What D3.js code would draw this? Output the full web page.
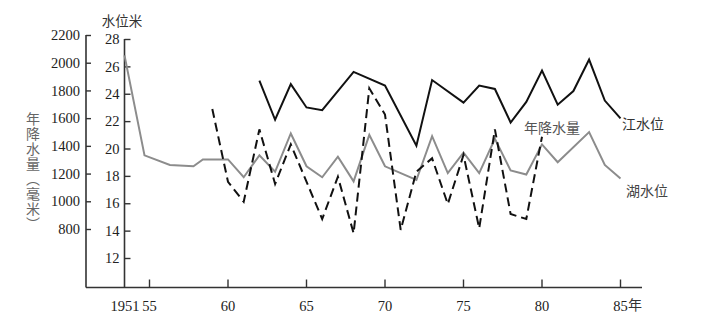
<!DOCTYPE html>
<html>
<head>
<meta charset="utf-8">
<script src="https://cdn.jsdelivr.net/npm/d3@7"></script>
<style>
  html, body { margin: 0; padding: 0; background: #fff; }
</style>
</head>
<body>
<div id="chart"></div>
<script>
// years (x), water levels in metres, rainfall in mm
const lakeYears = [1951, 1954.2, 1956.3, 1957.8, 1958.4, 1960, 1961, 1962, 1963, 1964, 1965, 1966, 1967, 1968, 1969, 1970,
  1972, 1973, 1974, 1975, 1976, 1977, 1978, 1979, 1980, 1981, 1983, 1984, 1985];
const lakeLevel = [26.8, 19.5, 18.8, 18.7, 19.2, 19.2, 17.9, 19.5, 18.3, 21.1, 18.7, 17.9, 19.4, 17.6, 21.0, 18.7,
  17.7, 20.9, 18.2, 19.7, 18.2, 20.7, 18.4, 18.1, 20.3, 19.0, 21.2, 18.8, 17.8];

const riverYears = [1962, 1963, 1964, 1965, 1966, 1968, 1970, 1972, 1973, 1975, 1976, 1977, 1978, 1979, 1980,
  1981, 1982, 1983, 1984, 1985];
const riverLevel = [24.95, 22.1, 24.7, 23.0, 22.8, 25.6, 24.6, 20.2, 25.0, 23.35, 24.6, 24.35, 21.9, 23.4, 25.7,
  23.2, 24.2, 26.5, 23.5, 22.2];

const rainYears = [1959, 1960, 1961, 1962, 1963, 1964, 1966, 1967, 1968, 1969, 1970, 1971, 1972, 1973, 1974,
  1975, 1976, 1977, 1978, 1979, 1980];
const rain = [1666, 1141, 997, 1519, 1125, 1411, 872, 1177, 769, 1815, 1626, 793, 1214, 1310, 980,
  1334, 805, 1519, 908, 872, 1466];

const xTicks = [1951, 1955, 1960, 1965, 1970, 1975, 1980, 1985];
const rainTicks = [800, 1000, 1200, 1400, 1600, 1800, 2000, 2200];
const levelTicks = [12, 14, 16, 18, 20, 22, 24, 26, 28];

const W = 725, H = 323;
const BASE = 287.5;          // x axis line
const RAIN_X = 86, LEVEL_X = 124.5;
const SERIF = "'Liberation Serif', 'Times New Roman', 'DejaVu Serif', serif";
const CJK = "'Noto Sans CJK SC', 'Noto Sans', sans-serif";

const svg = d3.select("#chart").append("svg").attr("width", W).attr("height", H);

// 1951 sits on the level axis, then the years run evenly from 1955
const x = d3.scaleLinear().domain([1951, 1955, 1985]).range([124.5, 149.5, 620.5]);
const yRain = d3.scaleLinear().domain([800, 2200]).range([229, 35]);
const yLevel = d3.scaleLinear().domain([12, 28]).range([258, 39]);

const axisColor = "#333";

// x axis
svg.append("line").attr("x1", RAIN_X).attr("x2", 642).attr("y1", BASE).attr("y2", BASE)
  .attr("stroke", axisColor).attr("stroke-width", 1.6);
svg.selectAll("line.xtick").data(xTicks.slice(1)).join("line").attr("class", "xtick")
  .attr("x1", d => x(d)).attr("x2", d => x(d)).attr("y1", BASE).attr("y2", BASE - 8)
  .attr("stroke", axisColor).attr("stroke-width", 1.4);
svg.selectAll("text.xlab").data(xTicks).join("text").attr("class", "xlab")
  .attr("x", d => d === 1951 ? x(d) + 0.5 : x(d))
  .attr("y", 311)
  .attr("text-anchor", "middle")
  .style("font-family", SERIF).attr("font-size", 14.5).attr("fill", "#222")
  .text(d => d === 1951 ? "1951" : String(d).slice(2));
svg.append("text").attr("x", x(1985) + 7.5).attr("y", 310)
  .style("font-family", CJK).attr("font-size", 14).attr("fill", "#333").text("年");

// rainfall axis
const rainAxis = svg.append("g").attr("transform", `translate(${RAIN_X},0)`)
  .call(d3.axisLeft(yRain).tickValues(rainTicks).tickFormat(d3.format("d"))
    .tickSizeInner(-5).tickSizeOuter(0).tickPadding(6));
rainAxis.select(".domain").remove();
rainAxis.selectAll(".tick line").attr("stroke", axisColor).attr("stroke-width", 1.4);
rainAxis.selectAll(".tick text").style("font-family", SERIF).attr("font-size", 14.5).attr("fill", "#222");
svg.append("line").attr("x1", RAIN_X).attr("x2", RAIN_X).attr("y1", yRain(2200)).attr("y2", BASE)
  .attr("stroke", axisColor).attr("stroke-width", 1.6);

// water level axis
const levelAxis = svg.append("g").attr("transform", `translate(${LEVEL_X},0)`)
  .call(d3.axisLeft(yLevel).tickValues(levelTicks).tickSizeInner(-6).tickSizeOuter(0).tickPadding(5));
levelAxis.select(".domain").remove();
levelAxis.selectAll(".tick line").attr("stroke", axisColor).attr("stroke-width", 1.4);
levelAxis.selectAll(".tick text").style("font-family", SERIF).attr("font-size", 14.5).attr("fill", "#222");
svg.append("line").attr("x1", LEVEL_X).attr("x2", LEVEL_X).attr("y1", yLevel(28)).attr("y2", BASE)
  .attr("stroke", axisColor).attr("stroke-width", 1.6);

// axis titles
svg.append("text").attr("x", 122).attr("y", 26).attr("text-anchor", "middle")
  .style("font-family", CJK).attr("font-size", 13.5).attr("fill", "#333").text("水位米");

svg.append("text")
  .attr("x", 33).attr("y", 112)
  .style("font-family", CJK).attr("font-size", 14).attr("fill", "#666")
  .style("writing-mode", "vertical-rl")
  .style("text-orientation", "upright")
  .style("letter-spacing", "1px")
  .text("年降水量（毫米）");

// series
const line = (xs, ys, yScale) => d3.line().x((d, i) => x(xs[i])).y(d => yScale(d))(ys);

svg.append("path").attr("d", line(lakeYears, lakeLevel, yLevel))
  .attr("fill", "none").attr("stroke", "#8c8c8c").attr("stroke-width", 2);
svg.append("path").attr("d", line(rainYears, rain, yRain))
  .attr("fill", "none").attr("stroke", "#111").attr("stroke-width", 2).attr("stroke-dasharray", "9,5");
svg.append("path").attr("d", line(riverYears, riverLevel, yLevel))
  .attr("fill", "none").attr("stroke", "#111").attr("stroke-width", 2);

// series labels
svg.append("text").attr("x", 622).attr("y", 129)
  .style("font-family", CJK).attr("font-size", 14).attr("fill", "#333").text("江水位");
svg.append("text").attr("x", 524).attr("y", 133)
  .style("font-family", CJK).attr("font-size", 14).attr("fill", "#555").text("年降水量");
svg.append("text").attr("x", 626).attr("y", 196)
  .style("font-family", CJK).attr("font-size", 14).attr("fill", "#444").text("湖水位");
</script>
</body>
</html>
